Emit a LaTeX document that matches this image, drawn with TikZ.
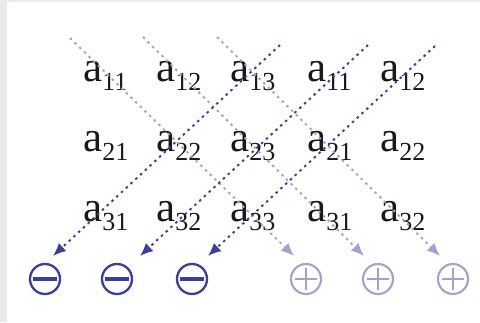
\documentclass[tikz,border=0pt]{standalone}
\usepackage{fontspec}
\setmainfont{Liberation Serif}
\usetikzlibrary{arrows.meta}
\definecolor{darkblue}{RGB}{58,62,156}
\definecolor{paleblue}{RGB}{160,164,204}
\definecolor{framegray}{RGB}{233,234,236}
\newcommand{\elem}[1]{a\raisebox{-9pt}{\fontsize{26}{26}\selectfont #1}}

\begin{document}
\begin{tikzpicture}[x=1pt,y=1pt,
  elem/.style={anchor=base west, inner sep=0pt, text=black!90, font=\fontsize{43}{43}\selectfont},
  negsign/.style={circle, draw=darkblue, line width=2.3pt, minimum size=30pt, inner sep=0pt,
    path picture={\fill[darkblue] ([xshift=-12pt,yshift=-2pt]path picture bounding box.center)
      rectangle ([xshift=12pt,yshift=2pt]path picture bounding box.center);}},
  possign/.style={circle, draw=paleblue, line width=2.1pt, minimum size=30pt, inner sep=0pt,
    path picture={\draw[paleblue, line width=1.8pt]
      ([xshift=-11pt]path picture bounding box.center) -- ([xshift=11pt]path picture bounding box.center)
      ([yshift=-11pt]path picture bounding box.center) -- ([yshift=11pt]path picture bounding box.center);}},
  darrow/.style={darkblue, line width=1.9pt, dash pattern=on 2.5pt off 4pt, -{Latex[length=13pt,width=11pt]}},
  parrow/.style={paleblue, line width=1.9pt, dash pattern=on 2.5pt off 4pt, -{Latex[length=13pt,width=11pt]}}]
% Frame
\useasboundingbox (0,0) rectangle (480,322);
\fill[framegray] (0,0) rectangle (480,322);
\fill[white] (7,0) rectangle (480,320);

% Matrix entries
\node[elem] (e11) at (83,240) {\elem{11}};
\node[elem] (e12) at (156,240) {\elem{12}};
\node[elem] (e13) at (230,240) {\elem{13}};
\node[elem] (e14) at (307,240) {\elem{11}};
\node[elem] (e15) at (380,240) {\elem{12}};
\node[elem] (e21) at (83,170) {\elem{21}};
\node[elem] (e22) at (156,170) {\elem{22}};
\node[elem] (e23) at (230,170) {\elem{23}};
\node[elem] (e24) at (307,170) {\elem{21}};
\node[elem] (e25) at (380,170) {\elem{22}};
\node[elem] (e31) at (83,100) {\elem{31}};
\node[elem] (e32) at (156,100) {\elem{32}};
\node[elem] (e33) at (230,100) {\elem{33}};
\node[elem] (e34) at (307,100) {\elem{31}};
\node[elem] (e35) at (380,100) {\elem{32}};

% Signs
\node[negsign] (neg1) at (45,43) {};
\node[negsign] (neg2) at (117,43) {};
\node[negsign] (neg3) at (192,43) {};
\node[possign] (pos1) at (306,43) {};
\node[possign] (pos2) at (378,43) {};
\node[possign] (pos3) at (453,43) {};

% Diagonal ends
\coordinate (ps1) at (70,284);
\coordinate (ps2) at (143,285);
\coordinate (ps3) at (217,285);
\coordinate (pt1) at (294,66);
\coordinate (pt2) at (364,66);
\coordinate (pt3) at (440,66);
\coordinate (ns1) at (280,277);
\coordinate (ns2) at (368,277);
\coordinate (ns3) at (435,276);
\coordinate (nt1) at (53,66);
\coordinate (nt2) at (140,66);
\coordinate (nt3) at (208,66);

% Diagonals
\draw[parrow] (ps1) -- (pt1); % to pos1
\draw[parrow] (ps2) -- (pt2); % to pos2
\draw[parrow] (ps3) -- (pt3); % to pos3
\draw[darrow] (ns1) -- (nt1); % to neg1
\draw[darrow] (ns2) -- (nt2); % to neg2
\draw[darrow] (ns3) -- (nt3); % to neg3
\end{tikzpicture}
\end{document}
